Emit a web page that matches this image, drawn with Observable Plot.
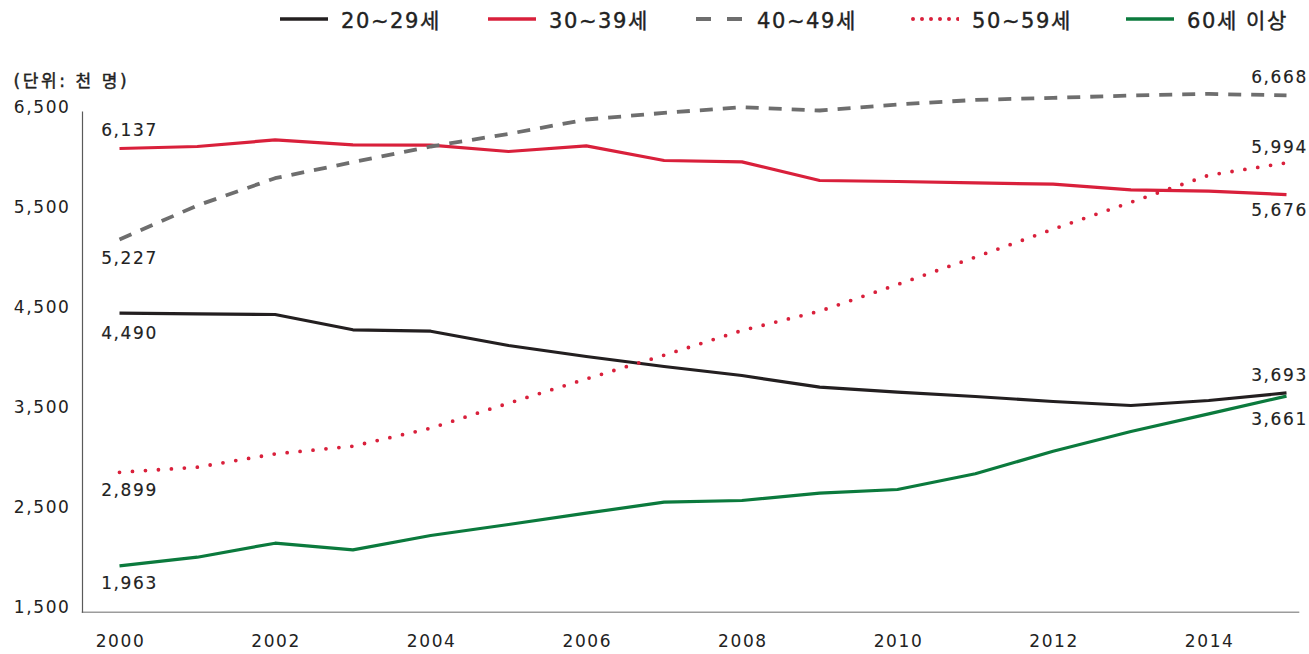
<!DOCTYPE html>
<html><head><meta charset="utf-8">
<script src="https://cdn.jsdelivr.net/npm/d3@7"></script>
<script src="https://cdn.jsdelivr.net/npm/@observablehq/plot@0.6"></script>
<style>
body{margin:0;background:#fff;font-family:"DejaVu Sans","Noto Sans CJK KR",sans-serif;color:#222;}
#legend{height:38px;position:relative;width:1309px;}
.item{position:absolute;top:0;height:38px;display:flex;align-items:center;font-size:21px;letter-spacing:1.6px;color:#222;white-space:nowrap;-webkit-text-stroke:0.4px #222;}
.item svg{margin-right:13px;}
.unit{letter-spacing:2.6px;}
</style></head><body>
<div id="legend"></div>
<div id="chart"></div>
<script>
// ---- data ----
const years = [2000,2001,2002,2003,2004,2005,2006,2007,2008,2009,2010,2011,2012,2013,2014,2015];
const seriesNames = ["20~29세","30~39세","40~49세","50~59세","60세 이상"];
const age20s = [4490,4483,4477,4324,4310,4167,4057,3957,3867,3750,3700,3657,3607,3567,3617,3693];
const age30s = [6137,6157,6223,6173,6170,6107,6163,6017,6003,5817,5807,5793,5780,5723,5710,5676];
const age40s = [5227,5567,5840,6000,6157,6283,6427,6493,6550,6517,6577,6623,6643,6667,6683,6668];
const age50s = [2899,2950,3083,3160,3340,3590,3833,4070,4317,4510,4777,5050,5330,5600,5870,5994];
const age60p = [1963,2050,2190,2123,2267,2377,2490,2600,2617,2690,2727,2884,3110,3307,3483,3661];
const yTicks = [1500,2500,3500,4500,5500,6500];
const xTicks = [2000,2002,2004,2006,2008,2010,2012,2014];
const unitLabel = "(단위: 천 명)";

// ---- styles ----
const seriesValues = [age20s, age30s, age40s, age50s, age60p];
const styles = [
  {stroke:"#231f20", width:3.2, dash:null, cap:"butt"},
  {stroke:"#d9203b", width:3.2, dash:null, cap:"butt"},
  {stroke:"#6e6e6e", width:3.8, dash:"13 10", cap:"butt"},
  {stroke:"#d9203b", width:3.8, dash:"0 13", cap:"round"},
  {stroke:"#0b7a3d", width:3.2, dash:null, cap:"butt"}
];
const legendLeft = [280,488,696,911,1126];
const startDy = [20,-18,19,18,18];
const endDy = [-17,16,-18,-15,23];

// ---- legend ----
const legend = document.getElementById("legend");
seriesNames.forEach((name,i)=>{
  const s = styles[i];
  const div = document.createElement("div");
  div.className = "item";
  div.style.left = legendLeft[i] + "px";
  const ns = "http://www.w3.org/2000/svg";
  const svg = document.createElementNS(ns,"svg");
  svg.setAttribute("width", 48); svg.setAttribute("height", 10);
  const ln = document.createElementNS(ns,"line");
  ln.setAttribute("x1", s.cap==="round" ? 2 : 0); ln.setAttribute("x2", 48);
  ln.setAttribute("y1", 5); ln.setAttribute("y2", 5);
  ln.setAttribute("stroke", s.stroke);
  ln.setAttribute("stroke-width", s.width + 0.2);
  if (s.dash) ln.setAttribute("stroke-dasharray", i===3 ? "0 9" : "15 16");
  ln.setAttribute("stroke-linecap", s.cap);
  svg.appendChild(ln);
  div.appendChild(svg);
  const t = document.createElement("span");
  t.textContent = name;
  div.appendChild(t);
  legend.appendChild(div);
});

// ---- chart ----
const fmt = d3.format(",");
const txt = {fill:"#222", stroke:"#222", strokeWidth:0.3};
const marks = [
  Plot.frame({anchor:"bottom", stroke:"#9c9c9c", strokeWidth:1.6}),
  Plot.frame({anchor:"left", stroke:"#5a5a5a", strokeWidth:1.2})
];
seriesValues.forEach((vals,i)=>{
  const s = styles[i];
  const rows = years.map((year,j)=>({year, value: vals[j]}));
  marks.push(Plot.line(rows, {x:"year", y:"value", stroke:s.stroke, strokeWidth:s.width,
    strokeDasharray:s.dash, strokeLinecap:s.cap, strokeLinejoin:"round"}));
  marks.push(Plot.text([rows[0]], {x:"year", y:"value", text:d=>fmt(d.value), dx:10, dy:startDy[i],
    fontSize:17, lineAnchor:"middle", textAnchor:"middle", ...txt, strokeWidth:0.15}));
  marks.push(Plot.text([rows[rows.length-1]], {x:"year", y:"value", text:d=>fmt(d.value), dx:-7, dy:endDy[i],
    fontSize:17, lineAnchor:"middle", textAnchor:"middle", ...txt, strokeWidth:0.15}));
});
marks.push(Plot.axisY({ticks:yTicks, tickSize:0, tickPadding:12, tickFormat:fmt, dy:-5, fontSize:17, label:null, ...txt}));
marks.push(Plot.axisX({ticks:xTicks, tickSize:0, tickPadding:23, tickFormat:d=>String(d), fontSize:17, label:null, ...txt, strokeWidth:0.5, dx:1}));
marks.push(Plot.text([unitLabel], {frameAnchor:"top-left", text:d=>d, dx:-69, dy:-31, textAnchor:"start",
  lineAnchor:"middle", fontSize:17, ...txt, strokeWidth:0.45, className:"unit"}));

const chart = Plot.plot({
  width:1309, height:616,
  marginLeft:82, marginRight:11, marginTop:73.7, marginBottom:42.3,
  x:{domain:[2000,2015], insetLeft:37, insetRight:12},
  y:{domain:[1500,6500]},
  style:{fontFamily:'"DejaVu Sans","Noto Sans CJK KR",sans-serif', color:"#222", background:"#fff", overflow:"visible", letterSpacing:"1.6px"},
  marks
});
document.getElementById("chart").appendChild(chart);
</script>
</body></html>
